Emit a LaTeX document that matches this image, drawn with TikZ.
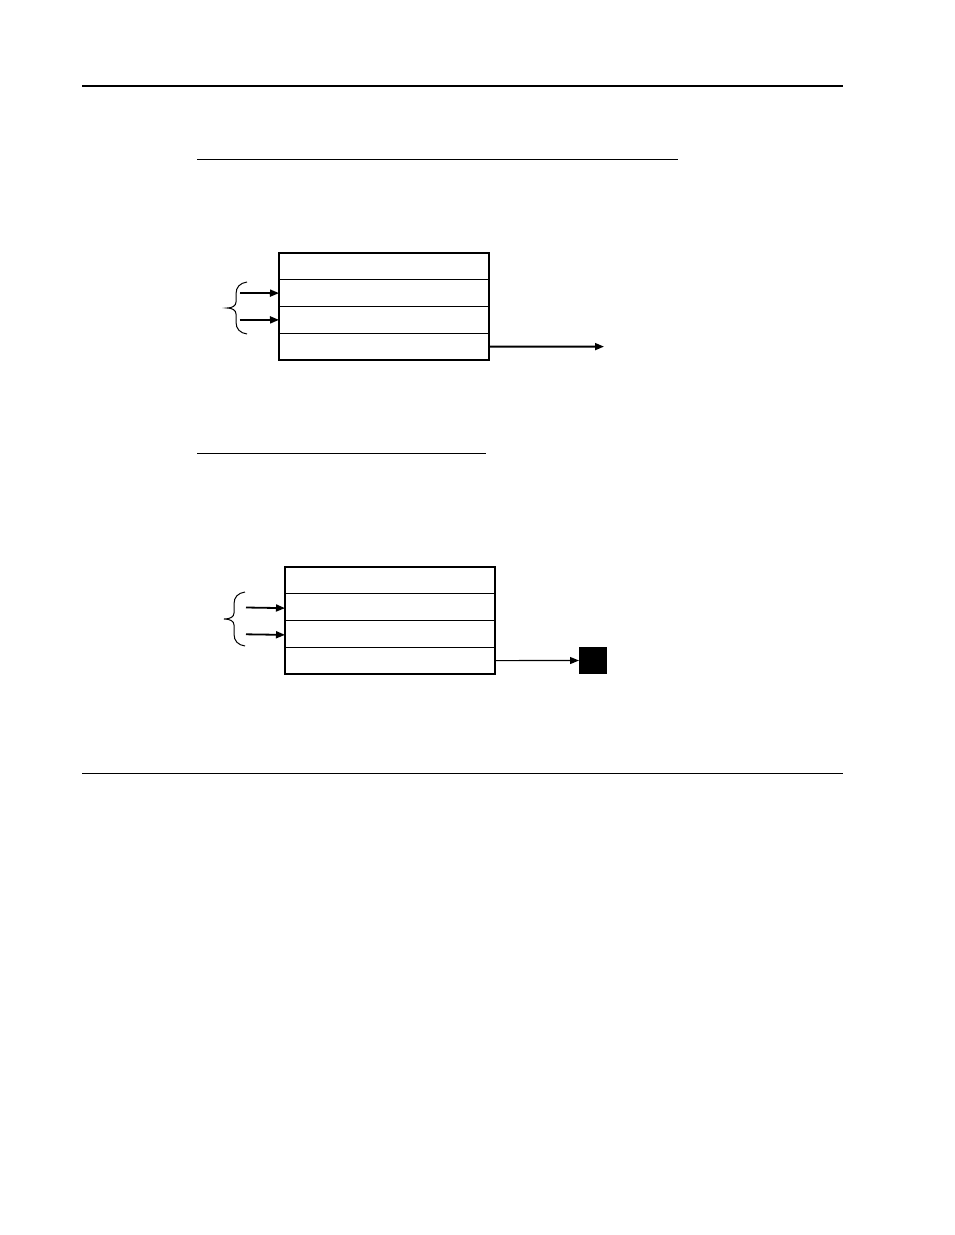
\documentclass[tikz,border=0pt]{standalone}
\usetikzlibrary{arrows.meta}
\begin{document}
\begin{tikzpicture}[x=1pt,y=-1pt,
  rowbox/.style={draw,line width=1.4pt,minimum width=210pt,minimum height=26.75pt,inner sep=0pt,outer sep=0pt,anchor=north west},
  arr/.style={line width=1.8pt,-{Triangle[length=9pt,width=7pt]}},
  rule/.style={line width=0.9pt},
  bracestyle/.style={line width=1pt}]
\useasboundingbox (0,0) rectangle (954,1235);
% header / footer rules
\coordinate (h1) at (82,85.7); \coordinate (h2) at (843,85.7);
\draw[line width=2.2pt] (h1) -- (h2);
\coordinate (f1) at (82,773); \coordinate (f2) at (843,773);
\draw[rule] (f1) -- (f2);
% underlines
\coordinate (u1a) at (197,159); \coordinate (u1b) at (678,159);
\draw[rule] (u1a) -- (u1b);
\coordinate (u2a) at (197,453); \coordinate (u2b) at (486,453);
\draw[rule] (u2a) -- (u2b);
% box 1
\node[rowbox] (r11) at (279,253) {};
\node[rowbox] (r12) at (279,279.75) {};
\node[rowbox] (r13) at (279,306.5) {};
\node[rowbox] (r14) at (279,333.25) {};
\coordinate (a11) at (240,293); \coordinate (a12) at (240,320);
\draw[arr] (a11) -- (r12.west);
\draw[arr] (a12) -- (r13.west);
\coordinate (o1) at (604,346.6);
\draw[arr] (r14.east) -- (o1);
\draw[bracestyle] (247,282) .. controls (240,283) and (236,287) .. (236,294)
  -- (236,302) .. controls (236,306) and (232,308) .. (227,308)
  .. controls (232,308) and (236,310) .. (236,314)
  -- (236,322) .. controls (236,329) and (240,333) .. (247,334);
% box 2
\node[rowbox] (r21) at (285,567) {};
\node[rowbox] (r22) at (285,593.75) {};
\node[rowbox] (r23) at (285,620.5) {};
\node[rowbox] (r24) at (285,647.25) {};
\coordinate (a21) at (246,607.5); \coordinate (a22) at (246,634.3);
\draw[arr] (a21) -- ([yshift=-1pt]r22.west);
\draw[arr] (a22) -- ([yshift=-1pt]r23.west);
\node[fill=black,minimum width=28pt,minimum height=27pt,inner sep=0pt,outer sep=0pt,anchor=north west] (sq) at (579,647) {};
\draw[line width=1.2pt,-{Triangle[length=9pt,width=7pt]}] (r24.east) -- (sq.west);
\draw[bracestyle] (245,592) .. controls (238,593) and (234,597) .. (234,604)
  -- (234,613) .. controls (234,617) and (230,619) .. (224,619)
  .. controls (230,619) and (234,621) .. (234,625)
  -- (234,634) .. controls (234,641) and (238,645) .. (245,646);
\end{tikzpicture}
\end{document}
